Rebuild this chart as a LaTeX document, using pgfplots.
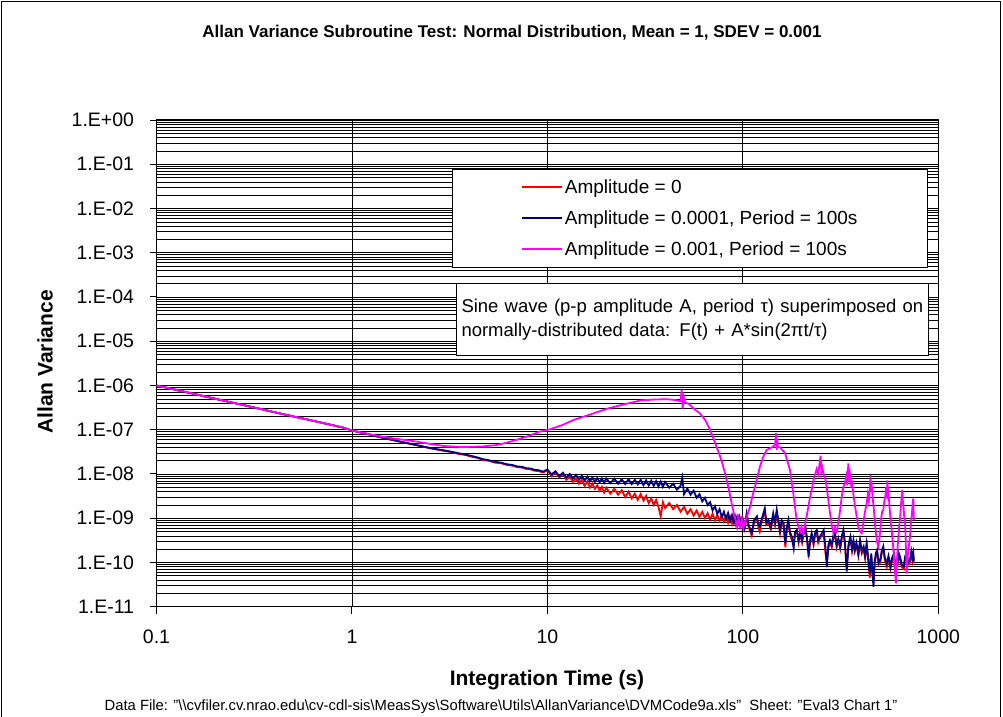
\documentclass[border=0pt]{standalone}
\usepackage{pgfplots}
\pgfplotsset{compat=1.18}
\usepackage{fontspec}
\setmainfont{Liberation Sans}
\definecolor{cred}{RGB}{255,0,0}
\definecolor{cblue}{RGB}{0,0,128}
\definecolor{cmag}{RGB}{255,0,255}
\begin{document}
\begin{tikzpicture}[x=1pt,y=1pt]
\useasboundingbox (0,0) rectangle (1003,716);
\draw[line width=1.5pt] (1.5,-10) rectangle (1000.5,714.5);
\begin{axis}[
 at={(156.5pt,109.3pt)}, anchor=south west,
 scale only axis, width=781.8pt, height=486.7pt,
 xmode=log, ymode=log,
 xmin=0.1, xmax=1000, ymin=1e-11, ymax=1,
 xtick={0.1,1,10,100,1000}, xticklabels={0.1,1,10,100,1000},
 ytick={1e-11,1e-10,1e-9,1e-8,1e-7,1e-6,1e-5,1e-4,1e-3,1e-2,1e-1,1},
 yticklabels={1.E-11,1.E-10,1.E-09,1.E-08,1.E-07,1.E-06,1.E-05,1.E-04,1.E-03,1.E-02,1.E-01,1.E+00},
 xmajorgrids, ymajorgrids, yminorgrids, xminorgrids=false,
 major grid style={black, line width=0.9pt},
 minor grid style={black, line width=0.6pt},
 axis line style={black, line width=1.2pt},
 tick align=outside, tick pos=left,
 major tick length=7pt, minor tick length=0pt,
 tick style={black, line width=1pt},
 ticklabel style={font=\fontsize{19.5}{21}\selectfont},
 yticklabel style={xshift=-12pt},
 xticklabel style={yshift=-13pt},
 legend cell align=left,
 legend style={at={(0.9868,0.8993)}, anchor=north east, draw=black, line width=1pt, fill=white, inner xsep=68pt, inner ysep=8pt, row sep=12pt, font=\fontsize{19}{22}\selectfont},
 legend image code/.code={\draw[#1, line width=2pt] (0pt,0.5pt) -- (40pt,0.5pt);},
]
\addplot[cred, line width=1.8pt] table {
x y
0.1 1.0e-6
0.15 6.7e-7
0.2 5.0e-7
0.3 3.35e-7
0.4 2.5e-7
0.5 2.0e-7
0.6 1.68e-7
0.7 1.44e-7
0.8 1.26e-7
0.9 1.12e-7
1.0 9.6e-8
1.2 8.0e-8
1.45 6.5e-8
1.7 5.55e-8
2.0 4.75e-8
2.3 4.15e-8
2.6 3.7e-8
2.93 3.35e-8
3.2 3.15e-8
3.5 2.85e-8
3.8 2.7e-8
4.1 2.45e-8
4.4 2.3e-8
4.7 2.05e-8
5.0 2.0e-8
5.4 1.8e-8
5.8 1.75e-8
6.2 1.6e-8
6.6 1.55e-8
7.0 1.43e-8
7.4 1.4e-8
7.8 1.3e-8
8.2 1.28e-8
8.6 1.18e-8
9.0 1.17e-8
9.5 1.08e-8
10.0 1.2e-8
10.5 8.9e-9
11.0 1.1e-8
11.5 8.3e-9
12.0 1.0e-8
12.5 7.4e-9
13.0 8.9e-9
13.5 6.6e-9
14.0 7.9e-9
14.5 6.0e-9
15.0 7.4e-9
15.5 5.4e-9
16.0 6.8e-9
16.5 4.9e-9
17.0 6.0e-9
17.5 4.6e-9
18.0 5.6e-9
18.5 4.2e-9
19.0 5.1e-9
19.5 3.8e-9
20 4.9e-9
21 3.6e-9
22 4.6e-9
23 3.4e-9
24 4.3e-9
25 3.0e-9
26 4.0e-9
27 2.8e-9
28 3.6e-9
29 2.6e-9
30 3.5e-9
31 2.5e-9
32 3.2e-9
33 2.2e-9
34 2.8e-9
35 2.0e-9
36 2.6e-9
37 1.8e-9
38 1.1e-9
39 2.3e-9
40 1.7e-9
42 2.2e-9
44 1.6e-9
46 2.0e-9
48 1.4e-9
50 1.8e-9
52 1.26e-9
54 1.6e-9
56 1.15e-9
58 1.5e-9
60 1.07e-9
62 1.4e-9
64 1.0e-9
66 1.3e-9
68 9.3e-10
70 1.26e-9
72 8.9e-10
74 1.2e-9
76 8.7e-10
78 1.17e-9
80 8.3e-10
82 1.1e-9
84 7.9e-10
86 1.1e-9
88 7.6e-10
90 1.07e-9
92 7.2e-10
94 1.05e-9
96 7.1e-10
98 1.0e-9
100 7.6e-10
102 5.6e-10
104.6 1.1e-9
107 6.3e-10
111 4.0e-10
114 7.9e-10
118 1.0e-9
120 6.3e-10
122 5.0e-10
126 1.0e-9
129.5 1.4e-9
132 7.1e-10
135 7.9e-10
139 5.6e-10
143 1.1e-9
146 7.1e-10
149 1.26e-9
152 7.9e-10
155 4.5e-10
158 7.9e-10
161.7 6.3e-10
165 2.2e-10
168 5.6e-10
171 7.9e-10
174 4.5e-10
178 3.2e-10
182 2.5e-10
185 4.5e-10
189 5.0e-10
193 2.8e-10
197 4.5e-10
201 2.8e-10
205 4.5e-10
209 5.6e-10
213 3.2e-10
217 1.6e-10
221 2.8e-10
225 4.0e-10
230 2.5e-10
235 4.5e-10
239 5.0e-10
243 2.8e-10
248 3.5e-10
253 4.0e-10
259 4.5e-10
264 1.8e-10
269 1.0e-10
274 2.2e-10
279 2.8e-10
285 2.2e-10
290 3.5e-10
296 4.0e-10
302 2.2e-10
308 3.2e-10
315 2.0e-10
321 3.5e-10
327 5.0e-10
333 2.5e-10
340 7.9e-11
347 2.2e-10
355 3.5e-10
362 1.8e-10
368 2.8e-10
374 1.8e-10
381 2.5e-10
390 1.4e-10
398 2.8e-10
406 1.6e-10
415 2.0e-10
422 1.26e-10
430 2.5e-10
438 1.1e-10
446 4.5e-11
454 1.4e-10
460 5.6e-11
466 3.5e-11
472 8.9e-11
479 1.4e-10
486 1.8e-10
495 8.9e-11
505 1.0e-10
513 1.6e-10
523 2.0e-10
533 1.1e-10
545 7.9e-11
556 1.26e-10
569 7.1e-11
580 1.1e-10
593 1.4e-10
605 7.1e-11
619 8.9e-11
628 1.4e-10
637 1.26e-10
650 7.9e-11
666 7.1e-11
677 1.26e-10
689 1.4e-10
700 8.9e-11
716 1.0e-10
728 1.6e-10
738 1.1e-10
745 1.4e-10
750 1.0e-10
};
\addlegendentry{Amplitude = 0}
\addplot[cblue, line width=1.8pt] table {
x y
0.1 1.0e-6
0.15 6.7e-7
0.2 5.0e-7
0.3 3.35e-7
0.4 2.5e-7
0.5 2.0e-7
0.6 1.68e-7
0.7 1.44e-7
0.8 1.26e-7
0.9 1.12e-7
1.0 9.6e-8
1.2 8.0e-8
1.45 6.5e-8
1.7 5.6e-8
2.0 4.8e-8
2.3 4.2e-8
2.6 3.75e-8
2.93 3.45e-8
3.2 3.2e-8
3.5 2.95e-8
3.8 2.75e-8
4.1 2.55e-8
4.4 2.35e-8
4.7 2.15e-8
5.0 2.05e-8
5.4 1.88e-8
5.8 1.8e-8
6.2 1.66e-8
6.6 1.6e-8
7.0 1.48e-8
7.4 1.45e-8
7.8 1.35e-8
8.2 1.33e-8
8.6 1.24e-8
9.0 1.22e-8
9.5 1.13e-8
10.0 1.26e-8
10.5 9.8e-9
11.0 1.15e-8
11.5 8.9e-9
12.0 1.07e-8
12.5 8.3e-9
13.0 1.0e-8
13.5 7.8e-9
14.0 9.5e-9
14.5 7.4e-9
15.0 9.1e-9
15.5 7.1e-9
16.0 8.7e-9
16.5 6.8e-9
17.0 8.3e-9
17.5 6.6e-9
18.0 8.1e-9
18.5 6.5e-9
19.0 7.9e-9
19.5 6.3e-9
20 7.9e-9
21 6.2e-9
22 7.8e-9
23 6.0e-9
24 7.6e-9
25 5.9e-9
26 7.6e-9
27 5.9e-9
28 7.4e-9
29 5.8e-9
30 7.4e-9
31 5.6e-9
32 7.2e-9
33 5.5e-9
34 7.1e-9
35 5.4e-9
36 6.9e-9
37 5.2e-9
38 6.8e-9
39 5.1e-9
40 6.6e-9
42 4.9e-9
44 6.0e-9
46 4.4e-9
48 5.4e-9
49 8.3e-9
50 3.5e-9
52 4.7e-9
54 3.4e-9
56 4.2e-9
58 2.9e-9
60 3.5e-9
62 2.4e-9
64 2.9e-9
66 2.0e-9
68 2.3e-9
70 1.5e-9
72 1.86e-9
74 1.26e-9
76 1.6e-9
78 1.05e-9
80 1.4e-9
82 9.5e-10
84 1.3e-9
86 8.5e-10
88 1.17e-9
90 7.9e-10
92 1.1e-9
94 7.6e-10
96 1.07e-9
98 7.1e-10
100 9.5e-10
102 6.3e-10
104.6 1.29e-9
107 7.1e-10
111 4.6e-10
114 8.9e-10
118 1.1e-9
120 7.1e-10
122 6.5e-10
126 1.1e-9
129.5 1.66e-9
132 7.9e-10
135 9.1e-10
139 6.3e-10
143 1.29e-9
146 7.9e-10
149 1.55e-9
152 8.9e-10
155 5.4e-10
158 8.9e-10
161.7 7.6e-10
165 2.7e-10
168 6.3e-10
171 9.1e-10
174 5.0e-10
178 3.8e-10
182 2.1e-10
185 5.0e-10
189 5.4e-10
193 3.2e-10
197 5.0e-10
201 3.2e-10
205 5.0e-10
209 6.5e-10
213 3.5e-10
217 1.35e-10
221 3.2e-10
225 4.6e-10
230 2.8e-10
235 5.0e-10
239 5.4e-10
243 3.2e-10
248 3.8e-10
253 4.5e-10
259 5.4e-10
264 2.5e-10
269 8.1e-11
274 2.5e-10
279 3.2e-10
285 2.5e-10
290 4.0e-10
296 4.6e-10
302 2.5e-10
308 3.5e-10
315 2.3e-10
321 4.0e-10
327 5.4e-10
333 2.8e-10
340 6.2e-11
347 2.5e-10
355 3.8e-10
362 2.0e-10
368 3.2e-10
374 1.9e-10
381 2.8e-10
390 1.6e-10
398 3.2e-10
406 1.8e-10
415 2.3e-10
422 1.4e-10
430 2.7e-10
438 1.26e-10
446 5.6e-11
454 1.6e-10
460 6.3e-11
466 2.8e-11
472 1.0e-10
479 1.6e-10
486 1.9e-10
495 1.0e-10
505 1.15e-10
513 1.8e-10
523 2.3e-10
533 1.26e-10
545 9.5e-11
556 1.4e-10
569 8.1e-11
580 1.26e-10
593 1.6e-10
605 7.9e-11
619 9.5e-11
628 1.6e-10
637 1.35e-10
650 8.9e-11
666 8.1e-11
677 1.4e-10
689 1.6e-10
700 1.0e-10
716 1.15e-10
728 1.8e-10
738 1.26e-10
745 1.6e-10
750 1.1e-10
};
\addlegendentry{Amplitude = 0.0001, Period = 100s}
\addplot[cmag, line width=1.8pt] table {
x y
0.1 1.0e-6
0.15 6.7e-7
0.2 5.0e-7
0.3 3.35e-7
0.4 2.5e-7
0.5 2.0e-7
0.6 1.68e-7
0.7 1.44e-7
0.8 1.26e-7
0.9 1.12e-7
1.0 9.6e-8
1.2 8.1e-8
1.45 6.9e-8
1.7 6.2e-8
2.14 5.4e-8
2.5 4.8e-8
2.93 4.3e-8
3.5 4.1e-8
4.0 4.1e-8
4.69 4.2e-8
5.5 4.5e-8
6.2 5.1e-8
6.95 5.9e-8
8.0 7.2e-8
9.16 9.1e-8
10.3 1.02e-7
12 1.29e-7
13.6 1.66e-7
16 2.1e-7
20.3 3.0e-7
25 3.8e-7
30.1 4.6e-7
35 4.8e-7
40.6 4.9e-7
45 4.7e-7
48 4.4e-7
48.6 7.9e-7
49.2 3.0e-7
49.8 5.5e-7
50.5 4.2e-7
53 3.8e-7
57.1 2.8e-7
60 2.4e-7
64.2 1.66e-7
68 1.0e-7
72.3 4.9e-8
75 3.2e-8
78.1 1.9e-8
81 1.05e-8
84.3 5.1e-9
87.6 2.2e-9
90 1.26e-9
92 8.9e-10
93.5 6.3e-10
95 1.0e-9
97 6.5e-10
99 9.5e-10
100.6 6.0e-10
102.7 8.5e-10
105 1.1e-9
108.8 1.8e-9
112 3.2e-9
115.4 5.1e-9
119 8.9e-9
122.4 1.48e-8
127 2.4e-8
132.4 3.5e-8
138 3.8e-8
143 4.2e-8
146 4.5e-8
148 8.5e-8
149 3.5e-8
150 6.3e-8
151 4.0e-8
155 4.0e-8
160 3.4e-8
164.3 3.0e-8
170 1.8e-8
174.3 1.23e-8
178 6.3e-9
182 3.2e-9
184.9 1.8e-9
188 1.0e-9
192.3 6.5e-10
197 5.0e-10
200 6.3e-10
204 4.6e-10
209 7.9e-10
212 1.1e-9
216.3 1.8e-9
220 2.8e-9
225 4.4e-9
231 7.9e-9
238.6 1.3e-8
243 1.0e-8
246 1.5e-8
250 2.6e-8
252 1.1e-8
255 1.4e-8
259 1.0e-8
264 7.9e-9
268.5 5.1e-9
274 2.5e-9
279.2 1.3e-9
285 7.1e-10
290.4 4.6e-10
296 6.3e-10
302 5.0e-10
308 7.6e-10
316 1.8e-9
321 3.2e-9
326.8 5.1e-9
333 6.3e-9
338 8.9e-9
342 5.6e-9
346.5 1.74e-8
349 7.1e-9
353 1.0e-8
358 5.6e-9
362 6.3e-9
367.6 3.6e-9
374 2.0e-9
382.3 1.1e-9
390 6.3e-10
398 5.0e-10
405.5 4.6e-10
412 7.1e-10
418 1.1e-9
424 1.6e-9
430 2.2e-9
436 3.5e-9
441 2.5e-9
446 4.4e-9
450.8 9.5e-9
453 4.0e-9
457 5.0e-9
462 2.8e-9
468 1.6e-9
474.5 7.6e-10
480 4.5e-10
487 2.8e-10
493.5 2.3e-10
500 3.5e-10
505 5.6e-10
510 1.0e-9
516 1.4e-9
523.4 1.55e-9
530 2.5e-9
536 3.2e-9
541 5.0e-9
545 2.8e-9
548.6 7.2e-9
552 3.5e-9
556 4.0e-9
562 2.0e-9
568 1.1e-9
577.3 5.4e-10
585 2.8e-10
592 1.6e-10
600 6.3e-11
607.5 3.4e-11
614 1.0e-10
620 2.5e-10
626 4.0e-10
630 6.3e-10
636.8 9.1e-10
642 1.6e-9
648 2.8e-9
654.5 4.4e-9
658 2.5e-9
664 1.8e-9
670 1.0e-9
675.4 9.1e-10
680 4.0e-10
684 1.6e-10
688.8 5.6e-11
694 1.0e-10
700 1.6e-10
708 2.5e-10
716.3 3.8e-10
722 6.3e-10
728 1.0e-9
733 1.26e-9
738 2.0e-9
742 2.5e-9
745.2 2.8e-9
748 1.26e-9
750 8.9e-10
};
\addlegendentry{Amplitude = 0.001, Period = 100s}
\end{axis}
\node[draw, line width=1pt, fill=white, anchor=north west, text width=462pt, inner sep=5pt, minimum height=72pt, align=left, font=\fontsize{18.5}{23.5}\selectfont] at (456,433) {Sine wave (p-p amplitude A, period τ) superimposed on\\normally-distributed data: F(t) + A*sin(2πt/τ)};
\node[font=\bfseries\fontsize{17}{20}\selectfont] at (512,683) {Allan Variance Subroutine Test: Normal Distribution, Mean = 1, SDEV = 0.001};
\node[rotate=90, font=\bfseries\fontsize{21}{24}\selectfont] at (45,354) {Allan Variance};
\node[font=\bfseries\fontsize{21}{24}\selectfont] at (547,36) {Integration Time (s)};
\node[font=\fontsize{14.8}{17}\selectfont] at (501,9) {Data File: "\textbackslash\textbackslash cvfiler.cv.nrao.edu\textbackslash cv-cdl-sis\textbackslash MeasSys\textbackslash Software\textbackslash Utils\textbackslash AllanVariance\textbackslash DVMCode9a.xls"\ \ Sheet: "Eval3 Chart 1"};
\end{tikzpicture}
\end{document}
